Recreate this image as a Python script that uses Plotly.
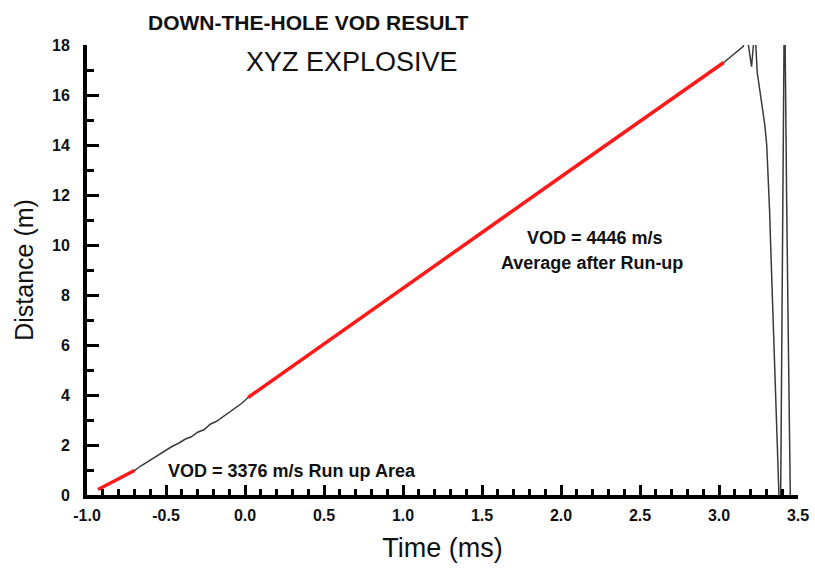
import plotly.graph_objects as go

# ---- data ----
record_time = [-0.93, -0.70, -0.66, -0.62, -0.58, -0.54, -0.50, -0.46, -0.42, -0.38,
               -0.34, -0.30, -0.26, -0.22, -0.18, -0.14, -0.10, -0.06, -0.02, 0.02,
               1.00, 2.00, 3.03, 3.154, 3.165, 3.18, 3.186, 3.206, 3.222, 3.232,
               3.242, 3.26, 3.276, 3.29, 3.302, 3.312, 3.32, 3.328, 3.344, 3.365,
               3.381, 3.39, 3.412, 3.418, 3.42, 3.428, 3.438, 3.449, 3.452]
record_dist = [0.22, 0.98, 1.16, 1.32, 1.48, 1.64, 1.78, 1.95, 2.07, 2.23,
               2.33, 2.51, 2.61, 2.83, 2.95, 3.13, 3.29, 3.49, 3.67, 3.90,
               8.28, 12.73, 17.30, 17.95, 18.4, 18.4, 18.0, 17.13, 18.3, 18.1,
               16.9, 16.1, 15.4, 14.8, 14.0, 12.8, 11.4, 9.8, 6.6, 2.6,
               -0.3, -0.3, 18.5, 18.5, 16.5, 11.9, 6.6, 0.0, -0.4]

runup_time = [-0.93, -0.70]
runup_dist = [0.22, 0.98]

steady_time = [0.02, 1.00, 2.00, 3.03]
steady_dist = [3.90, 8.28, 12.73, 17.30]

x_tick_vals = [-1.0, -0.5, 0.0, 0.5, 1.0, 1.5, 2.0, 2.5, 3.0, 3.5]
x_tick_text = ["-1.0", "-0.5", "0.0", "0.5", "1.0", "1.5", "2.0", "2.5", "3.0", "3.5"]
y_tick_vals = [0, 2, 4, 6, 8, 10, 12, 14, 16, 18]

title_text = "DOWN-THE-HOLE VOD RESULT"
subtitle_text = "XYZ EXPLOSIVE"
runup_label = "VOD = 3376 m/s Run up Area"
steady_label_1 = "VOD = 4446 m/s"
steady_label_2 = "Average after Run-up"

FONT = "Liberation Sans, Arial, sans-serif"
L, R, T, B = 87, 17, 45, 76
PW, PH = 815 - L - R, 571 - T - B


def px_x(px):
    return (px - L) / PW


def px_y(py):
    return (571 - B - py) / PH


fig = go.Figure()
fig.add_trace(go.Scatter(x=record_time, y=record_dist, mode="lines",
                         line=dict(color="#3a3a3a", width=1.5), hoverinfo="skip"))
fig.add_trace(go.Scatter(x=runup_time, y=runup_dist, mode="lines",
                         line=dict(color="#ff1a1a", width=3.5)))
fig.add_trace(go.Scatter(x=steady_time, y=steady_dist, mode="lines",
                         line=dict(color="#ff1a1a", width=3.5)))


def ann(text, x, y, size, bold):
    f = dict(family=FONT, size=size, color="#111")
    if bold:
        f["weight"] = "bold"
    return dict(text=text, xref="paper", yref="paper", x=px_x(x), y=px_y(y),
                showarrow=False, xanchor="center", yanchor="middle", font=f)


fig.update_layout(
    width=815, height=571,
    margin=dict(l=L, r=R, t=T, b=B, autoexpand=False),
    paper_bgcolor="white", plot_bgcolor="white",
    showlegend=False,
    annotations=[
        ann(title_text, 308, 22, 21, True),
        ann(subtitle_text, 352, 62, 27, False),
        ann(runup_label, 292, 471, 18, True),
        ann(steady_label_1, 595, 238, 18, True),
        ann(steady_label_2, 592, 263, 18, True),
    ],
)

fig.update_xaxes(
    range=[-1.0, 3.5], tickvals=x_tick_vals, ticktext=x_tick_text,
    automargin=False,
    showline=True, linecolor="black", linewidth=4, mirror=False,
    showgrid=False, zeroline=False,
    ticks="inside", ticklen=10, tickwidth=3, tickcolor="black",
    minor=dict(dtick=0.1, tick0=-1.0, ticks="inside", ticklen=6, tickwidth=3, tickcolor="black", showgrid=False),
    tickfont=dict(family=FONT, size=16, color="#111", weight="bold"),
    ticklabelstandoff=3,
    title=dict(text="Time (ms)", font=dict(family=FONT, size=27, color="#111"), standoff=16),
)
fig.update_yaxes(
    range=[0, 18], tickvals=y_tick_vals,
    automargin=False,
    showline=True, linecolor="black", linewidth=4, mirror=False,
    showgrid=False, zeroline=False,
    ticks="inside", ticklen=12, tickwidth=3, tickcolor="black",
    minor=dict(dtick=1, tick0=0, ticks="inside", ticklen=7, tickwidth=3, tickcolor="black", showgrid=False),
    tickfont=dict(family=FONT, size=16, color="#111", weight="bold"),
    ticklabelstandoff=10,
    title=dict(text="Distance (m)", font=dict(family=FONT, size=25, color="#111"), standoff=12),
)

fig.write_html("out.html", config={"displayModeBar": False},
               post_script="document.body.style.margin='0';")
